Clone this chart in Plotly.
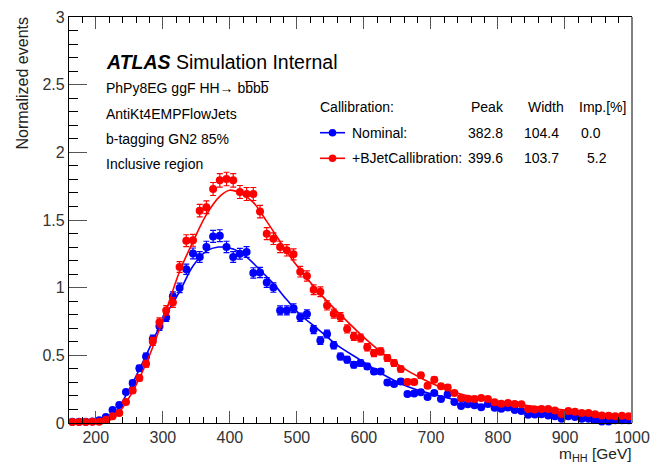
import plotly.graph_objects as go

# m_HH bin centres (10 GeV bins, 160-1000 GeV)
bin_centres = [165 + 10 * i for i in range(84)]

nominal = [
    0.010, 0.010, 0.010, 0.012, 0.020, 0.044, 0.096, 0.133, 0.229, 0.296,
    0.404, 0.492, 0.621, 0.714, 0.780, 0.936, 0.998, 1.136, 1.253, 1.227,
    1.301, 1.379, 1.384, 1.301, 1.227, 1.251, 1.264, 1.109, 1.112, 1.038,
    1.001, 0.832, 0.832, 0.848, 0.781, 0.805, 0.690, 0.609, 0.658, 0.574,
    0.492, 0.468, 0.431, 0.443, 0.418, 0.381, 0.381, 0.300, 0.288, 0.307,
    0.214, 0.218, 0.228, 0.192, 0.222, 0.177, 0.212, 0.155, 0.126, 0.138,
    0.132, 0.117, 0.140, 0.113, 0.106, 0.115, 0.096, 0.088, 0.061, 0.063,
    0.065, 0.056, 0.049, 0.032, 0.049, 0.045, 0.031, 0.031, 0.024, 0.012,
    0.012, 0.020, 0.020, 0.020,
]
nominal_err = [
    0.005, 0.005, 0.005, 0.005, 0.005, 0.008, 0.010, 0.012, 0.018, 0.020,
    0.022, 0.025, 0.028, 0.030, 0.030, 0.033, 0.035, 0.038, 0.040, 0.040,
    0.042, 0.044, 0.044, 0.042, 0.040, 0.040, 0.040, 0.038, 0.038, 0.036,
    0.035, 0.033, 0.033, 0.033, 0.031, 0.032, 0.030, 0.028, 0.029, 0.027,
    0.025, 0.024, 0.023, 0.023, 0.022, 0.021, 0.021, 0.019, 0.018, 0.019,
    0.016, 0.016, 0.016, 0.015, 0.016, 0.014, 0.015, 0.013, 0.012, 0.012,
    0.012, 0.011, 0.012, 0.011, 0.011, 0.011, 0.010, 0.010, 0.009, 0.009,
    0.009, 0.008, 0.008, 0.007, 0.008, 0.007, 0.006, 0.006, 0.006, 0.005,
    0.005, 0.005, 0.005, 0.005,
]

bjet = [
    0.007, 0.007, 0.007, 0.010, 0.010, 0.024, 0.049, 0.074, 0.155, 0.241,
    0.333, 0.438, 0.603, 0.744, 0.832, 0.891, 1.153, 1.347, 1.350, 1.569,
    1.594, 1.729, 1.793, 1.803, 1.793, 1.707, 1.692, 1.692, 1.562, 1.399,
    1.362, 1.301, 1.276, 1.246, 1.118, 1.086, 0.985, 0.970, 0.869, 0.808,
    0.783, 0.695, 0.640, 0.628, 0.559, 0.517, 0.529, 0.480, 0.443, 0.399,
    0.303, 0.303, 0.352, 0.276, 0.320, 0.271, 0.263, 0.222, 0.185, 0.180,
    0.177, 0.185, 0.177, 0.153, 0.143, 0.148, 0.141, 0.138, 0.103, 0.100,
    0.103, 0.103, 0.093, 0.066, 0.089, 0.083, 0.074, 0.074, 0.064, 0.056,
    0.054, 0.050, 0.054, 0.050,
]
bjet_err = [
    0.005, 0.005, 0.005, 0.005, 0.005, 0.008, 0.010, 0.012, 0.016, 0.019,
    0.022, 0.025, 0.030, 0.033, 0.035, 0.036, 0.040, 0.044, 0.044, 0.046,
    0.047, 0.048, 0.050, 0.050, 0.050, 0.048, 0.048, 0.048, 0.046, 0.044,
    0.043, 0.042, 0.042, 0.041, 0.039, 0.038, 0.036, 0.036, 0.034, 0.033,
    0.032, 0.030, 0.029, 0.029, 0.027, 0.026, 0.026, 0.025, 0.024, 0.022,
    0.020, 0.020, 0.021, 0.019, 0.019, 0.018, 0.018, 0.016, 0.015, 0.015,
    0.015, 0.015, 0.015, 0.014, 0.013, 0.013, 0.013, 0.013, 0.011, 0.011,
    0.011, 0.011, 0.010, 0.009, 0.010, 0.010, 0.009, 0.009, 0.009, 0.008,
    0.008, 0.008, 0.008, 0.008,
]

# fitted line shapes, sampled along m_HH
fit_nominal_x = [200, 225, 250, 275, 300, 325, 345, 365, 382.8, 405, 425, 445,
                 465, 485, 505, 530, 560, 595, 630, 665, 705, 755, 800, 850,
                 900, 950, 1000]
fit_nominal_y = [0.01, 0.06, 0.25, 0.50, 0.76, 0.97, 1.16, 1.27, 1.30, 1.285,
                 1.225, 1.13, 1.03, 0.91, 0.80, 0.70, 0.575, 0.465, 0.355,
                 0.27, 0.21, 0.15, 0.12, 0.09, 0.065, 0.045, 0.035]
fit_bjet_x = [200, 225, 250, 275, 300, 325, 345, 365, 385, 399.6, 415, 435,
              455, 475, 495, 515, 530, 565, 605, 645, 690, 740, 790, 850, 900,
              950, 1000]
fit_bjet_y = [0.005, 0.03, 0.19, 0.44, 0.76, 1.12, 1.34, 1.54, 1.675, 1.72,
              1.70, 1.63, 1.49, 1.34, 1.195, 1.07, 0.98, 0.80, 0.61, 0.45,
              0.32, 0.22, 0.17, 0.125, 0.095, 0.07, 0.055]

# calibration summary table
calib_names = ["Nominal:", "+BJetCallibration:"]
calib_peak = ["382.8", "399.6"]
calib_width = ["104.4", "103.7"]
calib_imp = ["0.0", "5.2"]
calib_colors = ["#0000ff", "#ff0000"]

info_lines = ["PhPy8EG ggF HH\u2192 bb\u0305bb\u0305",
              "AntiKt4EMPFlowJets", "b-tagging GN2 85%", "Inclusive region"]

FONT = "Liberation Sans, Arial, sans-serif"

fig = go.Figure()


def add_points(y, err, color):
    fig.add_trace(go.Scatter(
        x=bin_centres, y=y, mode="markers",
        marker=dict(color=color, size=8, line=dict(width=0)),
        error_y=dict(type="data", array=err, color=color, thickness=1.2, width=3),
        error_x=dict(type="constant", value=5, color=color, thickness=1.2, width=0),
        cliponaxis=False, showlegend=False))


def add_fit(x, y, color):
    fig.add_trace(go.Scatter(
        x=x, y=y, mode="lines", line=dict(color=color, width=1.6, shape="spline"),
        showlegend=False))


add_points(nominal, nominal_err, calib_colors[0])
add_fit(fit_nominal_x, fit_nominal_y, calib_colors[0])
add_points(bjet, bjet_err, calib_colors[1])
add_fit(fit_bjet_x, fit_bjet_y, calib_colors[1])

W, H = 651, 464
L, R, T, B = 69, 19, 17, 41
pw, ph = W - L - R, H - T - B


def px(xp):
    return (xp - L) / pw


def py(yp):
    return (H - B - yp) / ph


ann = []
ann.append(dict(text="<b><i>ATLAS</i></b> Simulation Internal", x=px(104), y=py(62),
                xanchor="left", yanchor="middle", font=dict(size=19.5, color="black")))
for txt, yp in zip(info_lines, [88.3, 114.3, 139.3, 164.3]):
    ann.append(dict(text=txt, x=px(103.5), y=py(yp), xanchor="left", yanchor="middle",
                    font=dict(size=14, color="black")))

ann.append(dict(text="Callibration:", x=px(317.5), y=py(106.7), xanchor="left", yanchor="middle",
                font=dict(size=14, color="black")))
for txt, xc in zip(["Peak", "Width", "Imp.[%]"], [487.5, 545.5, 602.5]):
    ann.append(dict(text=txt, x=px(xc), y=py(106.7), xanchor="center", yanchor="middle",
                    font=dict(size=14, color="black")))

shapes = []
for i, yp in enumerate([132.7, 158.3]):
    c = calib_colors[i]
    ann.append(dict(text=calib_names[i], x=px(349.5), y=py(yp), xanchor="left", yanchor="middle",
                    font=dict(size=14, color="black")))
    ann.append(dict(text=calib_peak[i], x=px(485.5), y=py(yp), xanchor="center", yanchor="middle",
                    font=dict(size=14, color="black")))
    ann.append(dict(text=calib_width[i], x=px(541), y=py(yp), xanchor="center", yanchor="middle",
                    font=dict(size=14, color="black")))
    ann.append(dict(text=calib_imp[i], x=px(590.5 + 6 * i), y=py(yp), xanchor="center", yanchor="middle",
                    font=dict(size=14, color="black")))
    shapes.append(dict(type="line", xref="paper", yref="paper", x0=px(320), x1=px(345),
                       y0=py(yp), y1=py(yp), line=dict(color=c, width=1.6)))
    shapes.append(dict(type="circle", xref="paper", yref="paper", x0=px(332.5 - 3.8), x1=px(332.5 + 3.8),
                       y0=py(yp + 3.8), y1=py(yp - 3.8), fillcolor=c, line=dict(color=c, width=0)))

# right frame edge
shapes.append(dict(type="line", xref="paper", yref="paper", x0=1, x1=1, y0=0, y1=1,
                   line=dict(color="#808080", width=2)))

ann.append(dict(text="m<sub>HH</sub> [GeV]", x=px(634), y=py(455), xanchor="right", yanchor="middle",
                font=dict(size=15.5, color="#222")))
ann.append(dict(text="Normalized events", textangle=-90, x=px(22), y=py(15), xanchor="center",
                yanchor="top", font=dict(size=16, color="#222")))

for a in ann:
    a.update(xref="paper", yref="paper", showarrow=False)

fig.update_layout(
    width=W, height=H, margin=dict(l=L, r=R, t=T, b=B, autoexpand=False),
    paper_bgcolor="white", plot_bgcolor="white",
    font=dict(family=FONT, color="black"),
    annotations=ann, shapes=shapes, showlegend=False,
    xaxis=dict(range=[160, 1000], dtick=100, tick0=0, ticks="inside", ticklen=12,
               tickwidth=1.3, tickcolor="#555", showline=True, linecolor="black", linewidth=1.3,
               mirror="ticks", showgrid=False, zeroline=False, automargin=False,
               tickfont=dict(size=16, color="#333"),
               minor=dict(dtick=20, tick0=0, ticks="inside", ticklen=6, tickcolor="black",
                          tickwidth=1, showgrid=False)),
    yaxis=dict(range=[0, 3], dtick=0.5, tick0=0, ticks="inside", ticklen=18,
               tickwidth=1.3, tickcolor="#555", showline=True, linecolor="black", linewidth=1.3,
               mirror=False, showgrid=False, zeroline=False, automargin=False,
               tickfont=dict(size=16, color="#333"),
               minor=dict(dtick=0.1, tick0=0, ticks="inside", ticklen=9, tickcolor="black",
                          tickwidth=1, showgrid=False)),
)

fig.write_html("out.html")
